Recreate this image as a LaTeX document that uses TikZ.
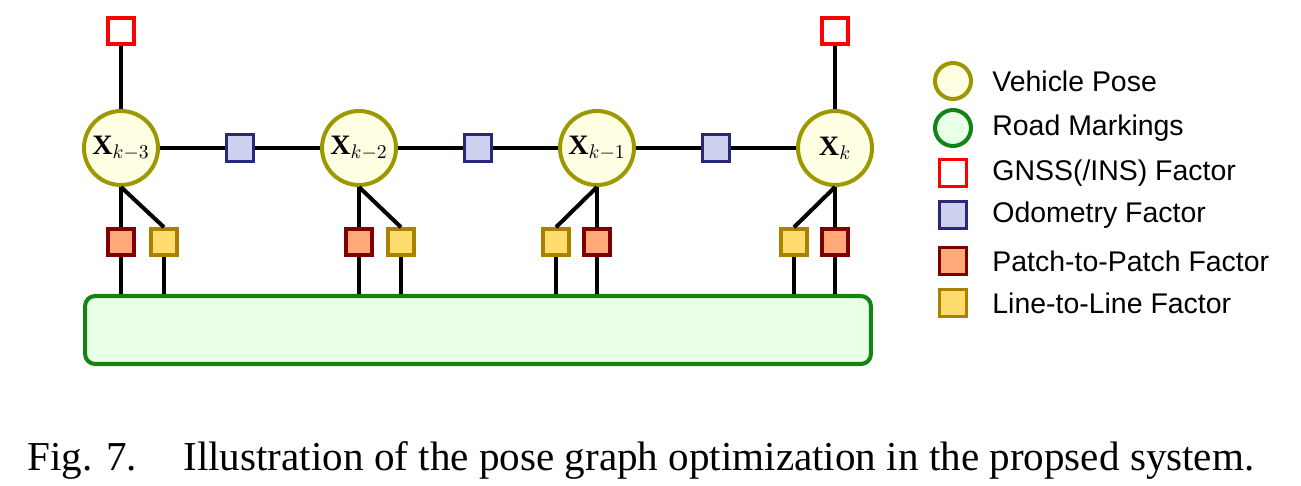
\RequirePackage{fix-cm}
\documentclass[tikz,border=0pt]{standalone}
\usepackage{amsmath}
\usepackage{fontspec}
\setmainfont{Liberation Serif}
\newfontfamily\legfont{Liberation Sans}
\usetikzlibrary{positioning}

\definecolor{poseline}{RGB}{158,152,0}
\definecolor{posefill}{RGB}{255,255,228}
\definecolor{roadline}{RGB}{20,130,20}
\definecolor{roadfill}{RGB}{232,255,232}
\definecolor{gnssline}{RGB}{255,0,0}
\definecolor{odomline}{RGB}{40,40,120}
\definecolor{odomfill}{RGB}{206,208,240}
\definecolor{ppline}{RGB}{128,0,0}
\definecolor{ppfill}{RGB}{255,168,120}
\definecolor{llline}{RGB}{170,130,0}
\definecolor{llfill}{RGB}{255,220,110}

\begin{document}
\begin{tikzpicture}[
    x=0.02cm, y=-0.02cm,
    every node/.style={font=\fontsize{16}{18}\selectfont},
    pose/.style={circle, draw=poseline, fill=posefill, line width=2.3pt,
                 minimum size=1.48cm, inner sep=0pt},
    road/.style={rectangle, draw=roadline, fill=roadfill, line width=2.3pt,
                 rounded corners=0.2cm, inner sep=0pt},
    fac/.style={rectangle, line width=2pt, minimum size=0.52cm, inner sep=0pt},
    gn/.style={fac, draw=gnssline, fill=white},
    od/.style={fac, draw=odomline, fill=odomfill, minimum size=0.54cm},
    pp/.style={fac, draw=ppline, fill=ppfill},
    ll/.style={fac, draw=llline, fill=llfill},
    e/.style={line width=2.3pt},
    leg/.style={font=\legfont\fontsize{16.2}{19}\selectfont, anchor=west, inner sep=0pt},
    capt/.style={font=\fontsize{23.4}{27}\selectfont, anchor=base west, inner sep=0pt},
  ]
  \useasboundingbox (0,0) rectangle (1301,485);

  % poses
  \node[pose] (x3) at (121,148) {$\mathbf{X}_{k-3}$};
  \node[pose] (x2) at (359,148) {$\mathbf{X}_{k-2}$};
  \node[pose] (x1) at (597,148) {$\mathbf{X}_{k-1}$};
  \node[pose] (x0) at (835,148) {$\mathbf{X}_{k}$};

  % road markings
  \node[road, minimum width=15.72cm, minimum height=1.36cm] (rm) at (478,330) {};

  % factors
  \node[gn] (g3) at (121,31) {};
  \node[gn] (g0) at (835,31) {};
  \node[od] (o32) at (240,148) {};
  \node[od] (o21) at (478,148) {};
  \node[od] (o10) at (716,148) {};
  \node[pp] (p3) at (121,242) {};
  \node[ll] (l3) at (164,242) {};
  \node[pp] (p2) at (359,242) {};
  \node[ll] (l2) at (401,242) {};
  \node[ll] (l1) at (556,242) {};
  \node[pp] (p1) at (597,242) {};
  \node[ll] (l0) at (794,242) {};
  \node[pp] (p0) at (835,242) {};

  % edges
  \draw[e] (g3) -- (x3);
  \draw[e] (g0) -- (x0);
  \draw[e] (x3) -- (o32) -- (x2) -- (o21) -- (x1) -- (o10) -- (x0);
  \draw[e] (x3) -- (p3);
  \draw[e] (x3.south) -- (l3.north);
  \draw[e] (x2) -- (p2);
  \draw[e] (x2.south) -- (l2.north);
  \draw[e] (x1) -- (p1);
  \draw[e] (x1.south) -- (l1.north);
  \draw[e] (x0) -- (p0);
  \draw[e] (x0.south) -- (l0.north);
  \foreach \f in {p3,l3,p2,l2,l1,p1,l0,p0}
    \draw[e] (\f) -- (\f |- rm.north);

  % legend
  \node[pose, minimum size=0.72cm] (kpose) at (953,81) {};
  \node[pose, draw=roadline, fill=roadfill, minimum size=0.72cm] (kroad) at (953,128) {};
  \node[gn, minimum size=0.54cm] (kgn) at (953,173) {};
  \node[od, minimum size=0.54cm] (kod) at (953,215) {};
  \node[pp, minimum size=0.54cm] (kpp) at (953,261) {};
  \node[ll, minimum size=0.54cm] (kll) at (953,303) {};
  \node[leg] (tpose) at (992,81) {Vehicle Pose};
  \node[leg] (troad) at (992,128) {Road Markings};
  \node[leg] (tgn) at (992,173) {GNSS(/INS) Factor};
  \node[leg] (tod) at (992,215) {Odometry Factor};
  \node[leg] (tpp) at (992,261) {Patch-to-Patch Factor};
  \node[leg] (tll) at (992,303) {Line-to-Line Factor};

  % caption
  \node[capt] (fig) at (27,470) {Fig. 7.};
  \node[capt] (txt) at (183,470) {Illustration of the pose graph optimization in the propsed system.};
\end{tikzpicture}
\end{document}
